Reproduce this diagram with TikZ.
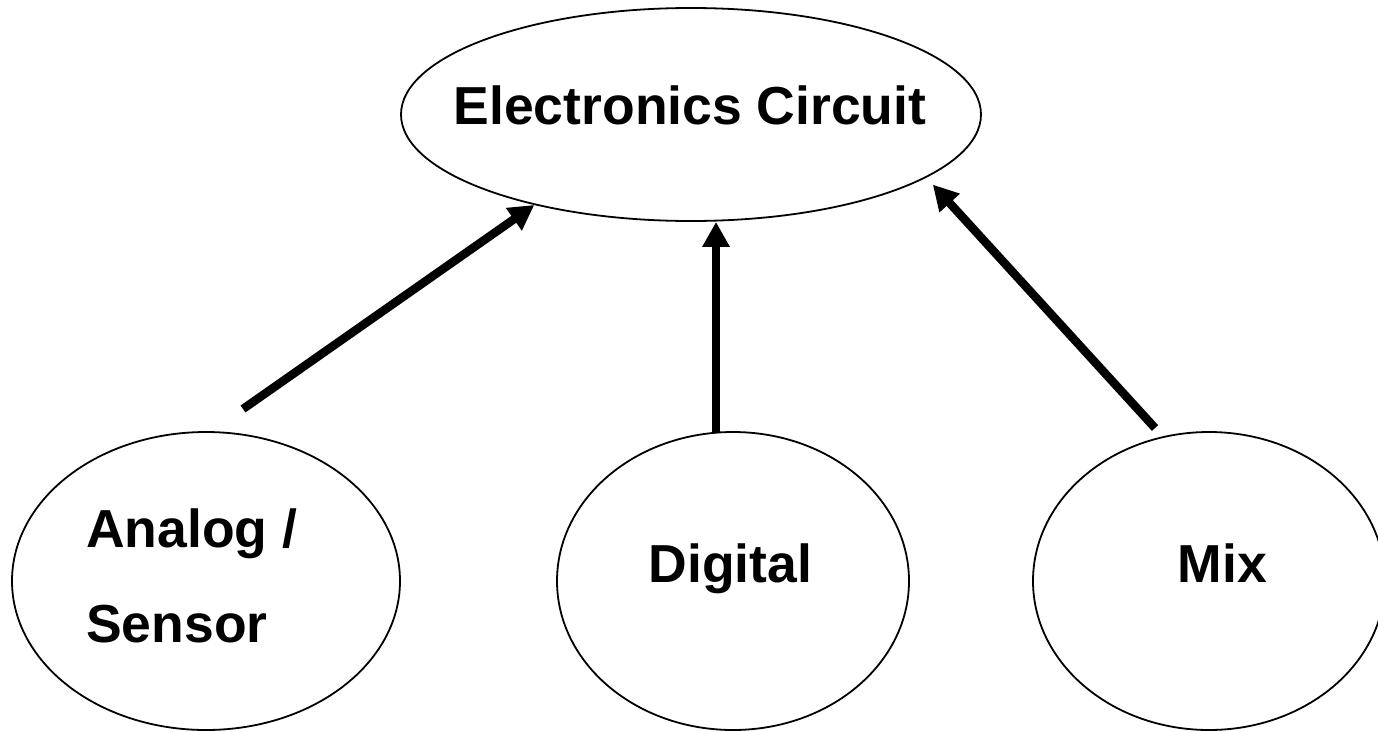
\documentclass[tikz,border=0pt]{standalone}
\usepackage{fontspec}
\setmainfont{Liberation Sans}
\usetikzlibrary{arrows.meta,shapes.geometric}
\begin{document}
\begin{tikzpicture}[x=1pt,y=-1pt,
  bubble/.style={draw, ellipse, line width=1.8pt, inner sep=0pt},
  txt/.style={inner sep=0pt, font=\bfseries\fontsize{53.5}{60}\selectfont},
  link/.style={line width=8.5pt, -{Triangle[length=25pt,width=26pt]}}
]
\useasboundingbox (0,0) rectangle (1378,731);

% ellipses
\node[bubble, minimum width=580pt, minimum height=213pt] (ec) at (691,114.5) {};
\node[bubble, minimum width=388pt, minimum height=298pt] (an) at (206,581) {};
\node[bubble, minimum width=352pt, minimum height=298pt] (dg) at (733,581) {};
\node[bubble, minimum width=352pt, minimum height=298pt] (mx) at (1209,581) {};

% labels
\node[txt, anchor=base] (ect) at (690,124) {Electronics Circuit};
\node[txt, anchor=base west] (an1) at (86,547) {Analog /};
\node[txt, anchor=base west] (an2) at (86,642) {Sensor};
\node[txt, anchor=base] (dgt) at (730.5,582) {Digital};
\node[txt, anchor=base] (mxt) at (1222.5,582) {Mix};

% arrow tails
\coordinate (an-tail) at (243,409);
\coordinate (dg-tail) at (716,432);
\coordinate (mx-tail) at (1155,428);

% arrows
\draw[link] (an-tail) -- (ec.210);
\draw[link] (dg-tail) -- (dg-tail |- ec.south);
\draw[link, shorten >=9.5pt] (mx-tail) -- (ec.-15.6);
\end{tikzpicture}
\end{document}
